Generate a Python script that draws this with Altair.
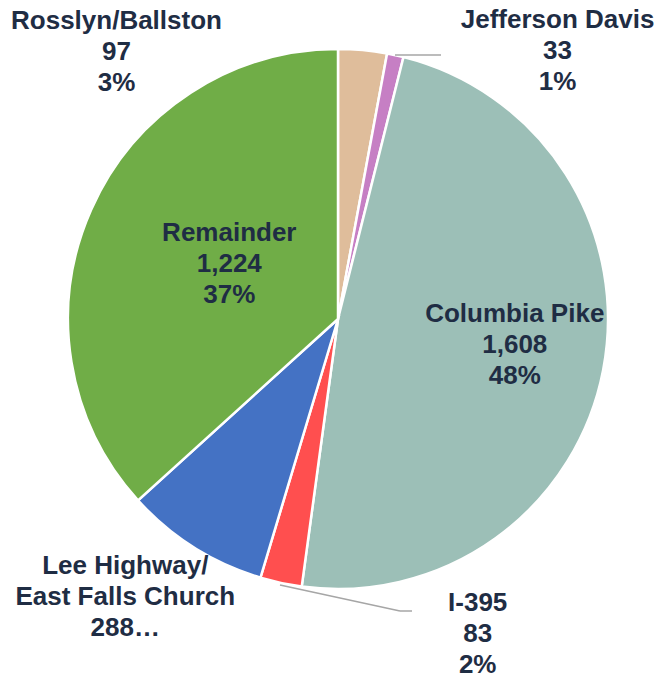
import altair as alt
import pandas as pd
import math

names = ["Rosslyn/Ballston", "Jefferson Davis", "Columbia Pike", "I-395",
         "Lee Highway/ East Falls Church", "Remainder"]
values = [97, 33, 1608, 83, 288, 1224]
label_lines = [
    ["Rosslyn/Ballston", "97", "3%"],
    ["Jefferson Davis", "33", "1%"],
    ["Columbia Pike", "1,608", "48%"],
    ["I-395", "83", "2%"],
    ["Lee Highway/", "East Falls Church", "288\u2026"],
    ["Remainder", "1,224", "37%"],
]
colors = ["#DFBD9B", "#C67FC4", "#9CBFB7", "#FF4F4F", "#4472C4", "#70AD47"]

df = pd.DataFrame({
    "name": names,
    "value": values,
    "order": list(range(len(names))),
    "label": ["\n".join(l) for l in label_lines],
})
total = float(sum(values))

CX, CY, R = 338, 319, 270
TEXT = "#1F2D44"

pie = alt.Chart(df).mark_arc(outerRadius=R, stroke="white", strokeWidth=2.5).encode(
    theta=alt.Theta("value:Q", stack=True),
    order=alt.Order("order:Q"),
    x=alt.value(CX), y=alt.value(CY),
    color=alt.Color("name:N", scale=alt.Scale(domain=names, range=colors), legend=None),
)

# label placement: (radius, dx, dy) per slice
placement = {
    "Rosslyn/Ballston": (290, -248, -9),
    "Jefferson Davis": (290, 158, -16),
    "Columbia Pike": (180, 0, -39),
    "I-395": (290, 201, 1),
    "Lee Highway/ East Falls Church": (290, -58, 2),
    "Remainder": (120, 1, -37),
}

text_base = alt.Chart(df).transform_window(
    cum="sum(value)", sort=[alt.SortField("order")], frame=[None, 0]
).transform_calculate(mid="datum.cum - datum.value / 2")

layers = [pie]
for n in names:
    r, dx, dy = placement[n]
    layers.append(
        text_base.mark_text(
            radius=r, dx=dx, dy=dy, lineBreak="\n", lineHeight=31,
            font="Liberation Sans", fontWeight="bold", fontSize=26,
            color=TEXT, align="center", baseline="middle",
        ).encode(
            theta=alt.Theta("mid:Q", scale=alt.Scale(domain=[0, total], range=[0, 2 * math.pi])),
            x=alt.value(CX), y=alt.value(CY),
            text="label:N",
        ).transform_filter(alt.datum.name == n)
    )

lead = pd.DataFrame({
    "x": [395, 280, 400], "x2": [441, 400, 412],
    "y": [55, 585, 611], "y2": [55, 611, 611],
})
leaders = alt.Chart(lead).mark_rule(color="#A6A6A6", strokeWidth=1.5).encode(
    x=alt.X("x:Q", scale=None), x2="x2:Q",
    y=alt.Y("y:Q", scale=None), y2="y2:Q",
)
layers.append(leaders)

chart = alt.layer(*layers).resolve_scale(theta="independent").properties(
    width=659, height=675, padding=0, autosize="none"
).configure_view(stroke=None)

chart.save("out.html", embed_options={"renderer": "svg", "actions": False})
